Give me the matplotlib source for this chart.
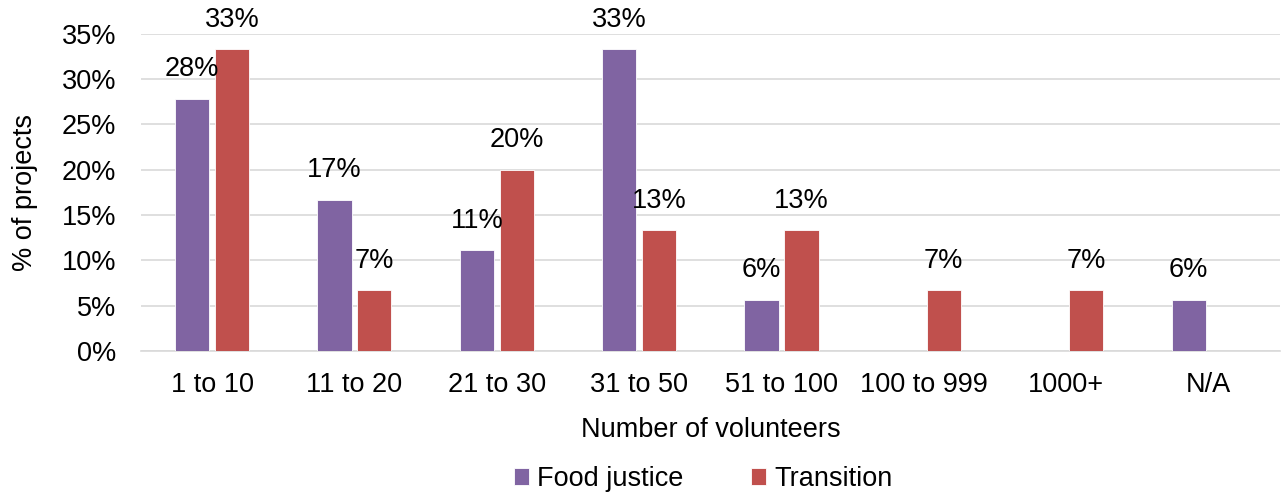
import numpy as np
import matplotlib.pyplot as plt

plt.rcParams['font.family'] = ['Liberation Sans', 'DejaVu Sans']

categories = ['1 to 10', '11 to 20', '21 to 30', '31 to 50', '51 to 100',
              '100 to 999', '1000+', 'N/A']
food_justice = [27.8, 16.7, 11.1, 33.3, 5.6, 0, 0, 5.6]
transition = [33.3, 6.7, 20.0, 13.3, 13.3, 6.7, 6.7, 0]

purple = '#8064A2'
red = '#C0504D'
fs = 19.5

fig = plt.figure(figsize=(12.81, 4.97), dpi=100)
ax = fig.add_axes([0.110, 0.294, 0.889, 0.638])

x = np.arange(len(categories))
w = 0.24
off = 0.14
b1 = ax.bar(x - off, food_justice, w, color=purple, edgecolor='white', linewidth=0.6,
            label='Food justice', zorder=3)
b2 = ax.bar(x + off, transition, w, color=red, edgecolor='white', linewidth=0.6,
            label='Transition', zorder=3)

# data labels only for non-empty bars
for bars, vals in [(b1, food_justice), (b2, transition)]:
    for rect, v in zip(bars, vals):
        if v > 0:
            ax.annotate(f'{v:.0f}%', (rect.get_x() + rect.get_width() / 2, v),
                        xytext=(0, 12), textcoords='offset points',
                        ha='center', va='bottom', fontsize=fs)

ax.set_xlim(-0.5, len(categories) - 0.5)
ax.set_ylim(0, 35)
ax.set_yticks(np.arange(0, 36, 5))
ax.set_yticklabels([f'{t}%' for t in range(0, 36, 5)], fontsize=fs)
ax.set_xticks(x)
ax.set_xticklabels(categories, fontsize=fs)
ax.tick_params(axis='y', length=0, pad=18)
ax.tick_params(axis='x', length=0, pad=15)
ax.grid(axis='y', color='#D9D9D9', linewidth=1.2, zorder=0)
for s in ['top', 'right', 'left']:
    ax.spines[s].set_visible(False)
ax.spines['bottom'].set_color('#D9D9D9')
ax.spines['bottom'].set_linewidth(1.2)

ax.set_xlabel('Number of volunteers', fontsize=fs, labelpad=14)
ax.set_ylabel('% of projects', fontsize=fs, labelpad=17)

fig.legend(handles=[b1, b2], loc='center', bbox_to_anchor=(0.549, 0.036), ncol=2,
           frameon=False, fontsize=fs, handlelength=0.55, handleheight=0.55,
           columnspacing=2.5, handletextpad=0.3, borderpad=0)

fig.savefig('out.png', dpi=100)
